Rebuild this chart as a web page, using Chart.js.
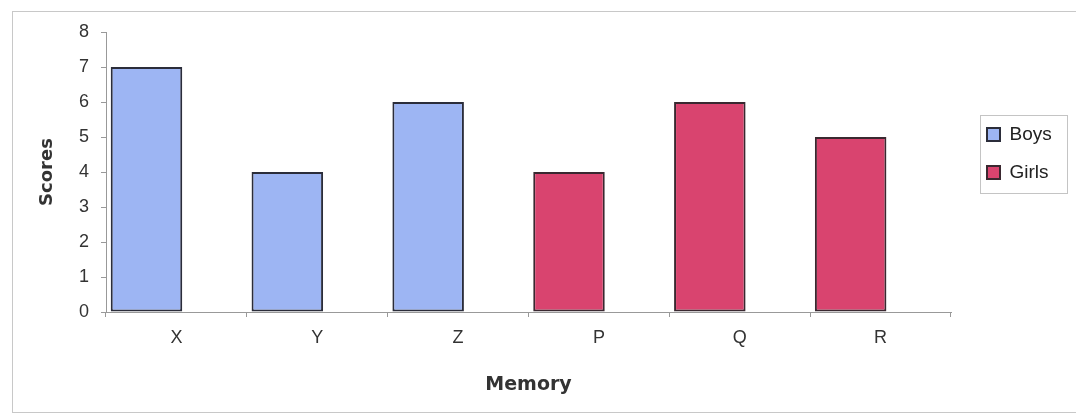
<!DOCTYPE html>
<html>
<head>
<meta charset="utf-8">
<script src="https://cdn.jsdelivr.net/npm/chart.js@4/dist/chart.umd.min.js"></script>
<style>
  html, body { margin: 0; padding: 0; background: #fff; }
  #wrap { position: relative; width: 1076px; height: 416px; overflow: hidden; }
  #frame { position: absolute; left: 12px; top: 11px; width: 1080px; height: 402px; border: 1px solid #c8c8c8; box-sizing: border-box; }
  canvas { position: absolute; left: 0; top: 0; }
</style>
</head>
<body>
<div id="wrap">
  <div id="frame"></div>
  <canvas id="c" width="1076" height="416"></canvas>
</div>
<script>
const categories = ['X', 'Y', 'Z', 'P', 'Q', 'R'];
const boys  = [7, 4, 6, null, null, null];
const girls = [null, null, null, 4, 6, 5];
const yTicks = [0, 1, 2, 3, 4, 5, 6, 7, 8];
const xTitle = 'Memory';
const yTitle = 'Scores';

const FONT = '"Liberation Sans", Arial, sans-serif';
const TITLE_FONT = '"DejaVu Sans", "Liberation Sans", sans-serif';

// Legend placement: fixed width on the right, items drawn at the reference spot
const LEGEND_W = 125;
const LEGEND_ITEM_LEFT = 987;
const LEGEND_ITEM_TOP = 125;

const legendPlace = {
  id: 'legendPlace',
  beforeUpdate(chart) {
    const lg = chart.legend;
    if (!lg || lg._placed) return;
    lg._placed = true;
    const fit = lg.fit.bind(lg);
    lg.fit = function () { fit(); this.width = LEGEND_W; };
    const draw = lg.draw.bind(lg);
    lg.draw = function () {
      const hb = this.legendHitBoxes && this.legendHitBoxes[0];
      if (!hb) { draw(); return; }
      const dx = LEGEND_ITEM_LEFT - hb.left, dy = LEGEND_ITEM_TOP - hb.top;
      const ctx = chart.ctx;
      ctx.save();
      ctx.translate(dx, dy);
      draw();
      ctx.restore();
      ctx.save();
      ctx.strokeStyle = '#c4c4c4';
      ctx.lineWidth = 1;
      ctx.strokeRect(LEGEND_ITEM_LEFT - 7 + 0.5, LEGEND_ITEM_TOP - 10 + 0.5, 87, 78);
      ctx.restore();
    };
  }
};

new Chart(document.getElementById('c'), {
  type: 'bar',
  data: {
    labels: categories,
    datasets: [
      { label: 'Boys', data: boys, stack: 'a', backgroundColor: '#9db5f3', borderColor: '#2b2d3a', borderWidth: 2, borderSkipped: false },
      { label: 'Girls', data: girls, stack: 'a', backgroundColor: '#d9446f', borderColor: '#3a2830', borderWidth: 2, borderSkipped: false },
      { label: '', data: categories.map(() => null), stack: 'b' }
    ]
  },
  options: {
    responsive: false,
    animation: false,
    categoryPercentage: 0.85,
    barPercentage: 1.195,
    layout: { padding: { left: 20, top: 32, right: 0, bottom: 10 } },
    plugins: {
      legend: {
        position: 'right',
        align: 'start',
        labels: {
          filter: item => item.text !== '',
          color: '#222',
          font: { family: FONT, size: 19 },
          boxWidth: 13,
          boxHeight: 13,
          padding: 19
        }
      },
      tooltip: { enabled: false }
    },
    scales: {
      x: {
        grid: { display: true, drawOnChartArea: false, color: '#999', tickLength: 5, offset: true },
        border: { color: '#999', width: 1 },
        ticks: { color: '#333', font: { family: FONT, size: 18 }, padding: 10 },
        title: { display: true, text: xTitle, color: '#333', font: { family: TITLE_FONT, size: 19, weight: 'bold' }, padding: { top: 0, bottom: 10 } },
        afterFit: s => { s.height = 94; }
      },
      y: {
        min: 0, max: 8,
        afterBuildTicks: s => { s.ticks = yTicks.map(v => ({ value: v })); },
        grid: { display: true, drawOnChartArea: false, color: '#999', tickLength: 5 },
        border: { color: '#999', width: 1 },
        ticks: { color: '#333', font: { family: FONT, size: 18 }, padding: 12 },
        title: { display: true, text: yTitle, color: '#333', font: { family: TITLE_FONT, size: 18, weight: 'bold' }, padding: { top: 17, bottom: 0 } },
        afterFit: s => { s.width = 86; }
      }
    }
  },
  plugins: [legendPlace]
});
</script>
</body>
</html>
